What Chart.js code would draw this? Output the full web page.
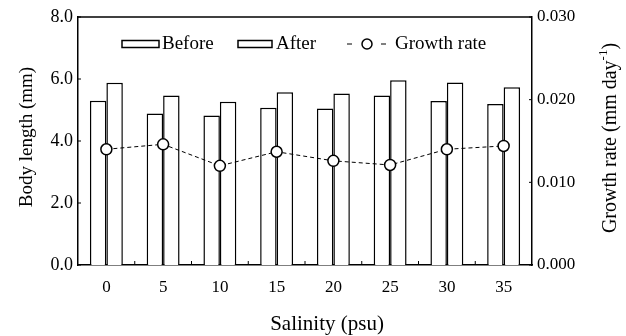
<!DOCTYPE html>
<html>
<head>
<meta charset="utf-8">
<script src="https://cdn.jsdelivr.net/npm/chart.js@4.4.1/dist/chart.umd.min.js"></script>
<style>
html,body{margin:0;padding:0;background:#fff;}
#wrap{width:626px;height:336px;position:relative;}
</style>
</head>
<body>
<div id="wrap"><canvas id="c" width="626" height="336"></canvas></div>
<script>
const categories = ["0","5","10","15","20","25","30","35"];
const beforeLength = [5.30, 4.89, 4.82, 5.07, 5.05, 5.47, 5.29, 5.19];
const afterLength  = [5.88, 5.47, 5.27, 5.57, 5.53, 5.96, 5.89, 5.73];
const growthRate   = [0.0140, 0.0146, 0.0120, 0.0137, 0.0126, 0.0121, 0.0140, 0.0144];
const leftTicks = [0, 2, 4, 6, 8];
const rightTicks = [0, 0.01, 0.02, 0.03];

const FONT = '"Liberation Serif", "Times New Roman", serif';

const decor = {
  id: 'decor',
  afterDraw(chart) {
    const ctx = chart.ctx;
    const a = chart.chartArea;
    const xs = chart.scales.x, yl = chart.scales.y, yr = chart.scales.y2;
    ctx.save();
    ctx.strokeStyle = '#000';
    // top frame line
    ctx.lineWidth = 1.5;
    ctx.beginPath();
    ctx.moveTo(a.left, a.top); ctx.lineTo(a.right, a.top);
    ctx.stroke();
    // inward ticks
    ctx.lineWidth = 1;
    ctx.beginPath();
    leftTicks.forEach(v => { const y = yl.getPixelForValue(v); ctx.moveTo(a.left, y); ctx.lineTo(a.left + 3, y); });
    rightTicks.forEach(v => { const y = yr.getPixelForValue(v); ctx.moveTo(a.right, y); ctx.lineTo(a.right - 3, y); });
    for (let i = 0; i < categories.length - 1; i++) {
      const x = (xs.getPixelForValue(i) + xs.getPixelForValue(i + 1)) / 2;
      ctx.moveTo(x, a.bottom); ctx.lineTo(x, a.bottom - 4);
    }
    ctx.stroke();

    // legend
    ctx.fillStyle = '#000';
    ctx.textBaseline = 'middle';
    ctx.textAlign = 'left';
    ctx.font = '19px ' + FONT;
    const ly = 44;
    ctx.lineWidth = 1.5;
    ctx.strokeRect(122, ly - 3.5, 37, 7);
    ctx.fillText('Before', 162, ly);
    ctx.strokeRect(238, ly - 3.5, 34, 7);
    ctx.fillText('After', 276, ly);
    ctx.lineWidth = 1;
    ctx.beginPath();
    ctx.moveTo(347, ly); ctx.lineTo(352, ly);
    ctx.moveTo(381, ly); ctx.lineTo(386, ly);
    ctx.stroke();
    ctx.beginPath();
    ctx.arc(367, ly, 5, 0, Math.PI * 2);
    ctx.fillStyle = '#fff'; ctx.fill();
    ctx.lineWidth = 1.5; ctx.stroke();
    ctx.fillStyle = '#000';
    ctx.fillText('Growth rate', 395, ly);

    // axis titles
    ctx.font = '21px ' + FONT;
    ctx.textAlign = 'center';
    ctx.fillText('Salinity (psu)', 327, 324);

    ctx.font = '19px ' + FONT;
    ctx.save();
    ctx.translate(27, 137);
    ctx.rotate(-Math.PI / 2);
    ctx.fillText('Body length (mm)', 0, 0);
    ctx.restore();

    ctx.save();
    ctx.translate(611, 138);
    ctx.rotate(-Math.PI / 2);
    const p1 = 'Growth rate (mm day', sup = '-1', p3 = ')';
    const big = '20px ' + FONT, small = '13px ' + FONT;
    ctx.font = big;
    const w1 = ctx.measureText(p1).width, w3 = ctx.measureText(p3).width;
    ctx.font = small;
    const w2 = ctx.measureText(sup).width;
    const total = w1 + w2 + w3;
    let x0 = -total / 2;
    ctx.textAlign = 'left';
    ctx.font = big;
    ctx.fillText(p1, x0, 0);
    ctx.font = small;
    ctx.fillText(sup, x0 + w1, -7);
    ctx.font = big;
    ctx.fillText(p3, x0 + w1 + w2, 0);
    ctx.restore();
    ctx.restore();
  }
};

new Chart(document.getElementById('c'), {
  data: {
    labels: categories,
    datasets: [
      {
        type: 'line', label: 'Growth rate', data: growthRate, yAxisID: 'y2', order: 0,
        borderColor: '#000', borderWidth: 1, borderDash: [4, 3], tension: 0,
        pointRadius: 5.5, pointHoverRadius: 5.5, pointBackgroundColor: '#fff',
        pointBorderColor: '#000', pointBorderWidth: 1.5, fill: false
      },
      {
        type: 'bar', label: 'Before', data: beforeLength, yAxisID: 'y', order: 1,
        backgroundColor: '#fff', borderColor: '#000', borderWidth: 1.5,
        categoryPercentage: 0.58, barPercentage: 1.0
      },
      {
        type: 'bar', label: 'After', data: afterLength, yAxisID: 'y', order: 1,
        backgroundColor: '#fff', borderColor: '#000', borderWidth: 1.5,
        categoryPercentage: 0.58, barPercentage: 1.0
      }
    ]
  },
  options: {
    responsive: false,
    animation: false,
    devicePixelRatio: 1,
    layout: { padding: { top: 17, left: 0, right: 0, bottom: 0 } },
    plugins: { legend: { display: false }, tooltip: { enabled: false }, title: { display: false } },
    scales: {
      x: {
        type: 'category', offset: true,
        grid: { display: false, drawTicks: false },
        border: { display: true, color: '#000', width: 1.5 },
        ticks: { color: '#000', font: { family: FONT, size: 17 }, padding: 12, maxRotation: 0 },
        afterFit(s) { s.height = 71; }
      },
      y: {
        position: 'left', min: 0, max: 8,
        grid: { display: false, drawTicks: false },
        border: { display: true, color: '#000', width: 1.5 },
        ticks: { stepSize: 2, color: '#000', font: { family: FONT, size: 18 }, padding: 5,
                 callback: v => v.toFixed(1) },
        afterFit(s) { s.width = 78; }
      },
      y2: {
        position: 'right', min: 0, max: 0.03,
        grid: { display: false, drawTicks: false },
        border: { display: true, color: '#000', width: 1.5 },
        ticks: { stepSize: 0.01, color: '#000', font: { family: FONT, size: 17 }, padding: 5,
                 callback: v => v.toFixed(3) },
        afterFit(s) { s.width = 94; }
      }
    }
  },
  plugins: [decor]
});
</script>
</body>
</html>
